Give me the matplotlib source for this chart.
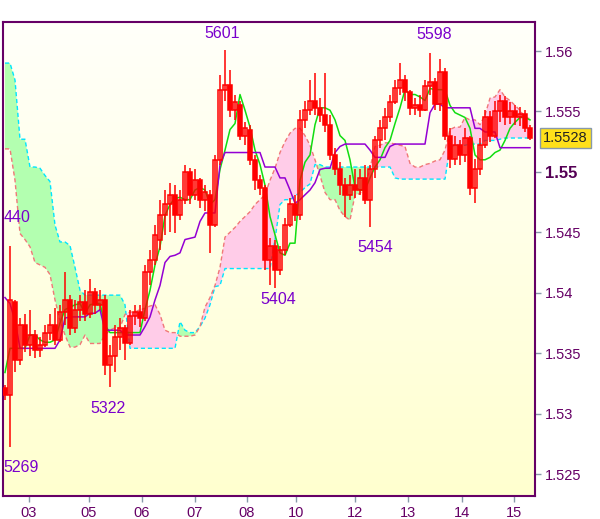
import numpy as np
import matplotlib
matplotlib.use("Agg")
import matplotlib.pyplot as plt
from matplotlib.colors import LinearSegmentedColormap

# ---------------- data (prices) ----------------
opens = [
    1.5321, 1.5315, 1.5392, 1.5344, 1.5373, 1.5357, 1.5365, 1.5353, 1.5357, 1.5367,
    1.5373, 1.5361, 1.5384, 1.5394, 1.5371, 1.5386, 1.5392, 1.5382, 1.5401, 1.5390,
    1.5394, 1.5340, 1.5348, 1.5363, 1.5371, 1.5358, 1.5381, 1.5384, 1.5379, 1.5417,
    1.5427, 1.5444, 1.5464, 1.5473, 1.5481, 1.5464, 1.5477, 1.5500, 1.5481, 1.5493,
    1.5477, 1.5481, 1.5456, 1.5510, 1.5568, 1.5572, 1.5551, 1.5555, 1.5530, 1.5535,
    1.5510, 1.5493, 1.5487, 1.5427, 1.5439, 1.5419, 1.5435, 1.5456, 1.5473, 1.5464,
    1.5543, 1.5551, 1.5559, 1.5553, 1.5547, 1.5539, 1.5514, 1.5502, 1.5489, 1.5481,
    1.5489, 1.5485, 1.5495, 1.5477, 1.5502, 1.5526, 1.5536, 1.5545, 1.5558, 1.5569,
    1.5576, 1.5566, 1.5553, 1.5555, 1.5551, 1.5571, 1.5574, 1.5556, 1.5583, 1.5530,
    1.5511, 1.5522, 1.5514, 1.5528, 1.5487, 1.5502, 1.5522, 1.5545, 1.5530, 1.5550,
    1.5559, 1.5545, 1.5550, 1.5545, 1.5548, 1.5536]
highs = [
    1.5324, 1.5439, 1.5394, 1.5379, 1.5382, 1.5386, 1.5369, 1.5363, 1.5373, 1.5382,
    1.5387, 1.5390, 1.5417, 1.5398, 1.5394, 1.5398, 1.5402, 1.5411, 1.5404, 1.5402,
    1.5398, 1.5357, 1.5373, 1.5379, 1.5373, 1.5386, 1.5390, 1.5390, 1.5423, 1.5435,
    1.5456, 1.5477, 1.5485, 1.5491, 1.5489, 1.5485, 1.5506, 1.5503, 1.5502, 1.5495,
    1.5489, 1.5485, 1.5514, 1.5580, 1.5601, 1.5584, 1.5564, 1.5559, 1.5541, 1.5539,
    1.5514, 1.5497, 1.5489, 1.5445, 1.5444, 1.5439, 1.5462, 1.5478, 1.5481, 1.5551,
    1.5559, 1.5576, 1.5582, 1.5561, 1.5582, 1.5547, 1.5520, 1.5508, 1.5495, 1.5497,
    1.5502, 1.5502, 1.5506, 1.5506, 1.5530, 1.5543, 1.5553, 1.5564, 1.5576, 1.5590,
    1.5580, 1.5568, 1.5561, 1.5564, 1.5576, 1.5598, 1.5578, 1.5593, 1.5586, 1.5536,
    1.5530, 1.5526, 1.5536, 1.5530, 1.5511, 1.5528, 1.5551, 1.5550, 1.5559, 1.5564,
    1.5563, 1.5558, 1.5555, 1.5554, 1.5551, 1.5539]
lows = [
    1.5311, 1.5272, 1.5334, 1.5340, 1.5351, 1.5348, 1.5346, 1.5347, 1.5355, 1.5361,
    1.5357, 1.5359, 1.5373, 1.5365, 1.5367, 1.5377, 1.5377, 1.5379, 1.5382, 1.5386,
    1.5332, 1.5322, 1.5334, 1.5353, 1.5344, 1.5357, 1.5373, 1.5372, 1.5377, 1.5406,
    1.5423, 1.5435, 1.5448, 1.5450, 1.5449, 1.5460, 1.5473, 1.5473, 1.5477, 1.5470,
    1.5468, 1.5433, 1.5454, 1.5506, 1.5559, 1.5545, 1.5543, 1.5526, 1.5522, 1.5506,
    1.5485, 1.5481, 1.5419, 1.5406, 1.5404, 1.5415, 1.5431, 1.5454, 1.5459, 1.5460,
    1.5536, 1.5547, 1.5547, 1.5541, 1.5533, 1.5510, 1.5497, 1.5481, 1.5463, 1.5477,
    1.5478, 1.5481, 1.5473, 1.5454, 1.5495, 1.5520, 1.5526, 1.5541, 1.5556, 1.5564,
    1.5559, 1.5547, 1.5547, 1.5545, 1.5550, 1.5564, 1.5551, 1.5550, 1.5526, 1.5503,
    1.5506, 1.5506, 1.5508, 1.5481, 1.5474, 1.5497, 1.5520, 1.5525, 1.5528, 1.5541,
    1.5539, 1.5540, 1.5539, 1.5538, 1.5533, 1.5526]
closes = [
    1.5315, 1.5394, 1.5344, 1.5373, 1.5357, 1.5365, 1.5353, 1.5357, 1.5367, 1.5373,
    1.5361, 1.5384, 1.5394, 1.5371, 1.5386, 1.5392, 1.5382, 1.5401, 1.5390, 1.5394,
    1.5340, 1.5348, 1.5363, 1.5371, 1.5358, 1.5381, 1.5384, 1.5379, 1.5417, 1.5427,
    1.5448, 1.5464, 1.5473, 1.5481, 1.5464, 1.5477, 1.5500, 1.5481, 1.5493, 1.5477,
    1.5483, 1.5456, 1.5510, 1.5568, 1.5572, 1.5551, 1.5558, 1.5530, 1.5536, 1.5510,
    1.5493, 1.5487, 1.5427, 1.5439, 1.5419, 1.5435, 1.5456, 1.5473, 1.5464, 1.5543,
    1.5551, 1.5559, 1.5553, 1.5547, 1.5539, 1.5514, 1.5502, 1.5489, 1.5481, 1.5489,
    1.5485, 1.5495, 1.5477, 1.5502, 1.5526, 1.5536, 1.5545, 1.5558, 1.5569, 1.5576,
    1.5566, 1.5553, 1.5555, 1.5551, 1.5571, 1.5574, 1.5556, 1.5583, 1.5530, 1.5511,
    1.5522, 1.5514, 1.5528, 1.5487, 1.5502, 1.5522, 1.5545, 1.5530, 1.5550, 1.5559,
    1.5545, 1.5550, 1.5545, 1.5548, 1.5536, 1.5528]
tenkan = [
    1.5334, 1.5354, 1.5354, 1.5354, 1.5354, 1.5365, 1.5365, 1.5361, 1.5359, 1.5359,
    1.5361, 1.5375, 1.5386, 1.5388, 1.5390, 1.5391, 1.5383, 1.5390, 1.5391, 1.5391,
    1.5373, 1.5367, 1.5367, 1.5367, 1.5367, 1.5367, 1.5367, 1.5367, 1.5386, 1.5402,
    1.5423, 1.5438, 1.5464, 1.5473, 1.5478, 1.5479, 1.5477, 1.5477, 1.5485, 1.5487,
    1.5485, 1.5473, 1.5477, 1.5502, 1.5518, 1.5535, 1.5540, 1.5564, 1.5551, 1.5537,
    1.5518, 1.5506, 1.5489, 1.5463, 1.5448, 1.5433, 1.5431, 1.5441, 1.5441, 1.5493,
    1.5508, 1.5514, 1.5539, 1.5553, 1.5553, 1.5551, 1.5543, 1.5530, 1.5526, 1.5510,
    1.5487, 1.5485, 1.5485, 1.5495, 1.5504, 1.5510, 1.5520, 1.5526, 1.5540, 1.5553,
    1.5568, 1.5564, 1.5564, 1.5562, 1.5559, 1.5569, 1.5568, 1.5568, 1.5568, 1.5555,
    1.5549, 1.5547, 1.5545, 1.5536, 1.5514, 1.5510, 1.5510, 1.5512, 1.5516, 1.5518,
    1.5526, 1.5536, 1.5541, 1.5545, 1.5545, 1.5543]
kijun = [
    1.5396, 1.5391, 1.5377, 1.5354, 1.5354, 1.5354, 1.5354, 1.5354, 1.5354, 1.5354,
    1.5354, 1.5361, 1.5379, 1.5380, 1.5380, 1.5380, 1.5380, 1.5383, 1.5383, 1.5386,
    1.5369, 1.5369, 1.5369, 1.5369, 1.5365, 1.5365, 1.5365, 1.5365, 1.5372, 1.5380,
    1.5394, 1.5406, 1.5425, 1.5430, 1.5431, 1.5433, 1.5444, 1.5445, 1.5446, 1.5459,
    1.5466, 1.5466, 1.5466, 1.5506, 1.5516, 1.5516, 1.5516, 1.5516, 1.5516, 1.5516,
    1.5516, 1.5516, 1.5504, 1.5504, 1.5504, 1.5495, 1.5495, 1.5485, 1.5474, 1.5477,
    1.5481, 1.5485, 1.5491, 1.5502, 1.5503, 1.5503, 1.5516, 1.5521, 1.5523, 1.5523,
    1.5523, 1.5523, 1.5523, 1.5518, 1.5512, 1.5512, 1.5512, 1.5521, 1.5523, 1.5523,
    1.5523, 1.5523, 1.5523, 1.5523, 1.5523, 1.5549, 1.5556, 1.5556, 1.5553, 1.5553,
    1.5553, 1.5553, 1.5553, 1.5553, 1.5536, 1.5536, 1.5533, 1.5533, 1.5533, 1.5520,
    1.5520, 1.5520, 1.5520, 1.5520, 1.5520, 1.5520]
span_a = [
    1.5590, 1.5590, 1.5576, 1.5527, 1.5527, 1.5504, 1.5504, 1.5503, 1.5497, 1.5492,
    1.5456, 1.5442, 1.5442, 1.5439, 1.5421, 1.5402, 1.5398, 1.5398, 1.5398, 1.5398,
    1.5398, 1.5398, 1.5398, 1.5398, 1.5390, 1.5354, 1.5354, 1.5354, 1.5354, 1.5354,
    1.5354, 1.5354, 1.5354, 1.5354, 1.5354, 1.5376, 1.5369, 1.5367, 1.5367, 1.5372,
    1.5379, 1.5390, 1.5405, 1.5406, 1.5420, 1.5420, 1.5420, 1.5420, 1.5420, 1.5420,
    1.5420, 1.5420, 1.5420, 1.5420, 1.5444, 1.5473, 1.5477, 1.5477, 1.5480, 1.5483,
    1.5487, 1.5490, 1.5506, 1.5506, 1.5504, 1.5504, 1.5504, 1.5504, 1.5504, 1.5504,
    1.5504, 1.5504, 1.5504, 1.5504, 1.5504, 1.5504, 1.5504, 1.5504, 1.5495, 1.5494,
    1.5494, 1.5494, 1.5494, 1.5494, 1.5494, 1.5494, 1.5494, 1.5494, 1.5494, 1.5521,
    1.5522, 1.5522, 1.5522, 1.5523, 1.5523, 1.5523, 1.5526, 1.5526, 1.5526, 1.5527,
    1.5528, 1.5528, 1.5528, 1.5528, 1.5528, 1.5528]
span_b = [
    1.5519, 1.5519, 1.5493, 1.5449, 1.5444, 1.5438, 1.5425, 1.5423, 1.5421, 1.5415,
    1.5394, 1.5377, 1.5365, 1.5355, 1.5355, 1.5357, 1.5365, 1.5358, 1.5358, 1.5358,
    1.5365, 1.5369, 1.5371, 1.5371, 1.5382, 1.5384, 1.5384, 1.5386, 1.5387, 1.5389,
    1.5390, 1.5382, 1.5369, 1.5367, 1.5367, 1.5364, 1.5364, 1.5364, 1.5365, 1.5372,
    1.5388, 1.5396, 1.5406, 1.5421, 1.5446, 1.5450, 1.5454, 1.5459, 1.5463, 1.5467,
    1.5473, 1.5477, 1.5481, 1.5493, 1.5503, 1.5516, 1.5525, 1.5532, 1.5536, 1.5536,
    1.5530, 1.5522, 1.5510, 1.5497, 1.5483, 1.5477, 1.5477, 1.5468, 1.5463, 1.5460,
    1.5481, 1.5482, 1.5489, 1.5503, 1.5521, 1.5522, 1.5524, 1.5524, 1.5523, 1.5522,
    1.5521, 1.5507, 1.5504, 1.5504, 1.5506, 1.5507, 1.5509, 1.5510, 1.5518, 1.5535,
    1.5537, 1.5537, 1.5545, 1.5543, 1.5543, 1.5539, 1.5547, 1.5561, 1.5562, 1.5568,
    1.5562, 1.5559, 1.5555, 1.5551, 1.5545, 1.5544]

day_ticks = [4.8, 16.8, 27.4, 38.0, 48.4, 58.2, 70.0, 80.6, 91.4, 101.8]
day_labels = ["03", "05", "06", "07", "08", "10", "12", "13", "14", "15"]
price_ticks = [1.525, 1.53, 1.535, 1.54, 1.545, 1.55, 1.555, 1.56]
price_labels = ["1.525", "1.53", "1.535", "1.54", "1.545", "1.55", "1.555", "1.56"]
last_price = 1.5528
last_label = "1.5528"

ext_labels = ["5601", "5598", "440", "5404", "5454", "5322", "5269"]
ext_bars = [44, 85, 1, 54, 73, 21, 1]
ext_prices = [1.5601, 1.5598, 1.5440, 1.5404, 1.5454, 1.5322, 1.5269]

# ---------------- styling ----------------
ext_offsets = [(-3, 16), (4, 19), (7, 27), (3, -12), (5, -20), (-2, -22), (11, -16)]
FONT = "Liberation Sans"
AXIS_COL = "#660066"
TICK_COL = "#8899aa"

o = np.array(opens); h = np.array(highs); l = np.array(lows); c = np.array(closes)
x = np.arange(len(c))
a = np.array(span_a); b = np.array(span_b)

fig = plt.figure(figsize=(6.0, 5.19), dpi=100)
fig.patch.set_facecolor("white")
ax = fig.add_axes([3 / 600, 1 - 496 / 519, 532 / 600, 474 / 519])

# gradient background
cmap = LinearSegmentedColormap.from_list("bg", ["#fffffa", "#ffffcf"])
grad = np.linspace(0, 1, 256).reshape(-1, 1)
ax.imshow(grad, extent=[0, 1, 0, 1], transform=ax.transAxes, aspect="auto",
          cmap=cmap, origin="upper", zorder=0, interpolation="bilinear")

# cloud
ax.fill_between(x, a, b, where=a >= b, interpolate=True, color="#b3ffb0", lw=0, zorder=1)
ax.fill_between(x, a, b, where=a < b, interpolate=True, color="#ffcce8", lw=0, zorder=1)
ax.plot(x, a, color="#00e5ff", lw=1.0, ls=(0, (3, 2)), zorder=2)
ax.plot(x, b, color="#f07878", lw=1.0, ls=(0, (3, 2)), zorder=2)

# lines
ax.plot(x, tenkan, color="#11dd11", lw=1.1, zorder=3)
ax.plot(x, kijun, color="#9400d3", lw=1.1, zorder=3)

# candles
ax.vlines(x, l, h, color="#ff0000", lw=1.1, zorder=4)
body_bottom = np.minimum(o, c)
body_h = np.maximum(np.abs(c - o), 0.00003)
face = ["none" if cc > oo else "#ff0000" for oo, cc in zip(o, c)]
ax.bar(x, body_h, bottom=body_bottom, width=0.75, facecolor=face,
       edgecolor="#ff0000", linewidth=1.1, zorder=5)

# extreme labels
for lab, bi, pr, off in zip(ext_labels, ext_bars, ext_prices, ext_offsets):
    ax.annotate(lab, xy=(bi, pr), xytext=off, textcoords="offset pixels",
                ha="center", va="center", color="#7a00cc", fontsize=11.5,
                family=FONT, zorder=6, annotation_clip=False)

ax.set_xlim(-0.4, 106)
ax.set_ylim(1.52318, 1.5624)

ax.yaxis.tick_right()
ax.set_yticks(price_ticks)
ax.set_yticklabels(price_labels)
ax.set_xticks(day_ticks)
ax.set_xticklabels(day_labels)
ax.tick_params(axis="y", direction="out", length=4, width=1, color=TICK_COL,
               labelcolor=AXIS_COL, labelsize=10.5, pad=3)
ax.tick_params(axis="x", direction="out", length=4, width=1, color=TICK_COL,
               labelcolor=AXIS_COL, labelsize=10.5, pad=3)
for t in ax.get_yticklabels() + ax.get_xticklabels():
    t.set_family(FONT)
for t in ax.get_yticklabels():
    if t.get_text() == "1.55":
        t.set_fontweight("bold")
        t.set_fontsize(12)
        t.set_color("#550055")

for s in ax.spines.values():
    s.set_color(AXIS_COL)
    s.set_linewidth(1.5)

# last price box
ax.annotate(last_label, xy=(1, last_price), xycoords=("axes fraction", "data"),
            xytext=(8, 0), textcoords="offset pixels", ha="left", va="center",
            fontsize=10.5, family=FONT, color="#222222", annotation_clip=False,
            bbox=dict(boxstyle="square,pad=0.2", fc="#ffe01a", ec="#8899aa", lw=1))

fig.savefig("out.png", dpi=100)
